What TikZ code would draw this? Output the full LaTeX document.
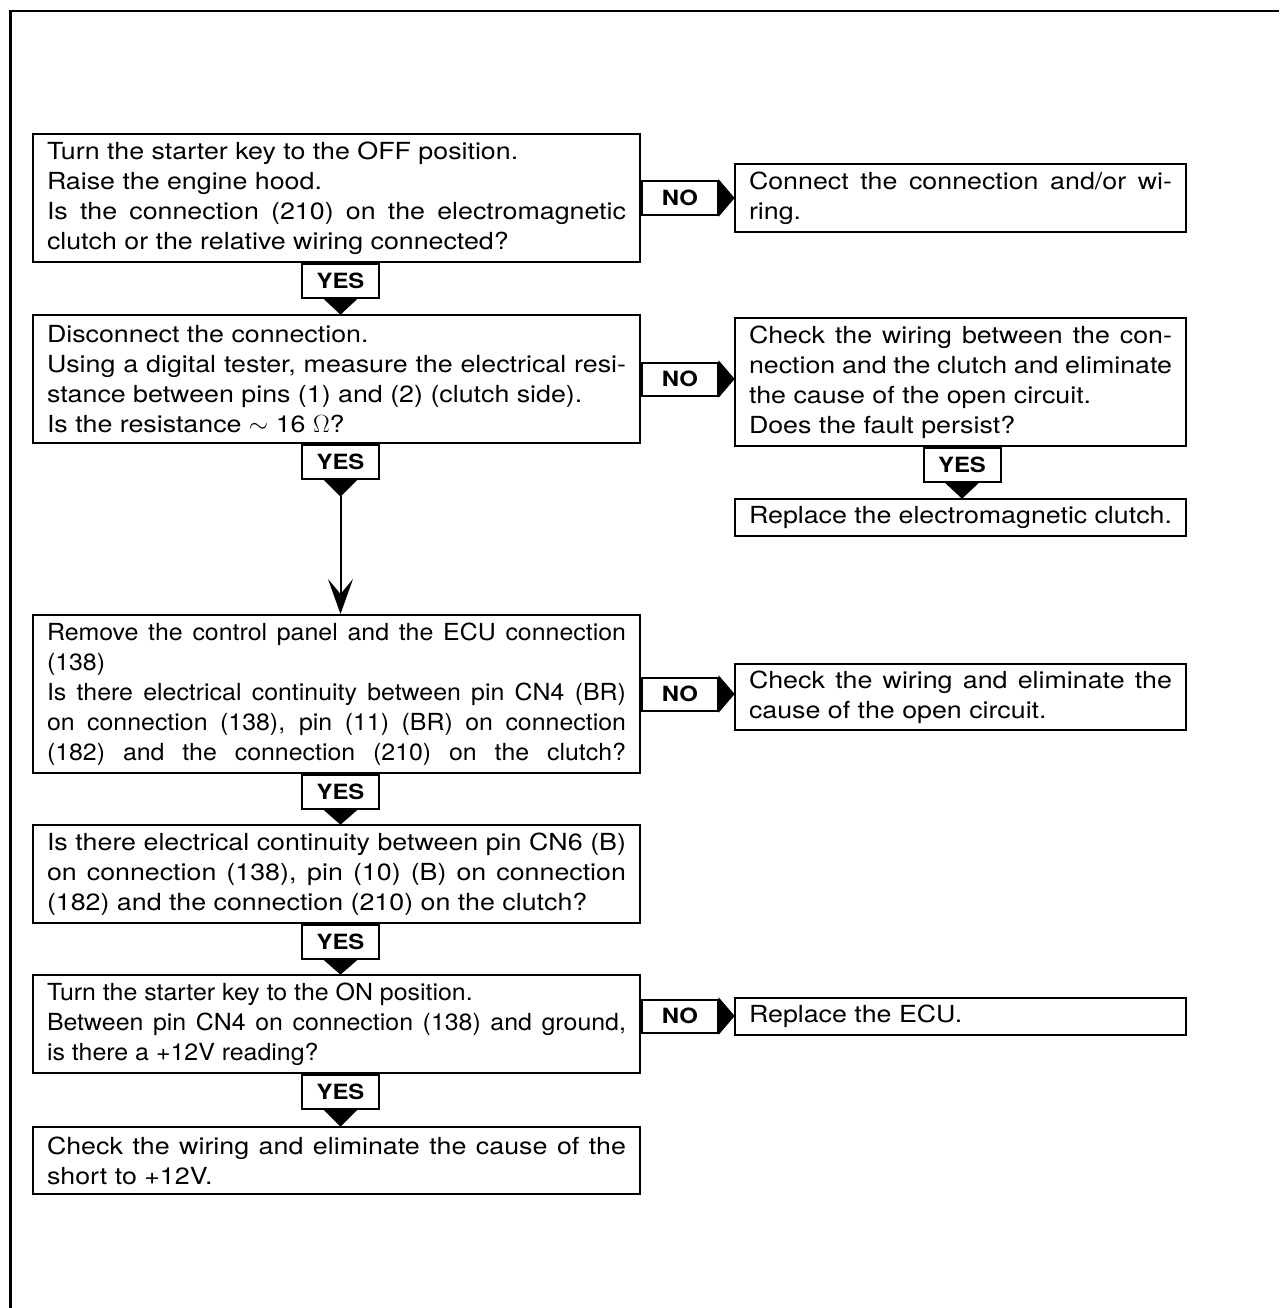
\documentclass[tikz,border=0pt]{standalone}
\usepackage{fontspec}
\setmainfont{TeX Gyre Heros}[FakeStretch=1.14]
\newfontfamily\narrowfont{TeX Gyre Heros}[FakeStretch=1.06]
\usepackage{tikz}
\usetikzlibrary{arrows.meta, positioning, calc}
\hbadness=10000

\begin{document}
\begin{tikzpicture}[
        x=1pt, y=-1pt,
        >=Stealth,
        box/.style={
            rectangle,
            draw,
            line width=2pt,
            text width=579pt,
            align=justify,
            inner xsep=14pt,
            inner ysep=4pt,
            font=\fontsize{23.5pt}{30pt}\selectfont
        },
        rbox/.style={box, text width=423pt},
        yestab/.style={
            rectangle,
            draw,
            fill=white,
            line width=2pt,
            minimum width=77pt,
            minimum height=34pt,
            inner sep=0pt,
            font=\fontsize{21pt}{21pt}\selectfont\bfseries
        },
        notab/.style={yestab, minimum width=76pt, minimum height=33pt},
        tip/.style={fill=black, draw=black, line width=1pt, line join=miter}
    ]
    \useasboundingbox (0,0) rectangle (1279,1308);
    \draw[line width=2.5pt] (10.5,1308) -- (10.5,11) -- (1279,11);

    % left column
    \node[box, minimum height=128pt] (q1) at (336.5,198) {Turn the starter key to the OFF position.\\
        Raise the engine hood.\\
        Is the connection (210) on the electromagnetic\linebreak clutch or the relative wiring connected?};
    \node[box, minimum height=128pt, below=51pt of q1] (q2) {Disconnect the connection.\\
        Using a digital tester, measure the electrical resi-\linebreak stance between pins (1) and (2) (clutch side).\\
        Is the resistance $\sim$ 16 $\Omega$?};
    \node[box, minimum height=158pt, below=170pt of q2, font=\fontsize{23.5pt}{30pt}\narrowfont] (q3) {Remove the control panel and the ECU connection\linebreak (138)\\
        Is there electrical continuity between pin CN4 (BR)\linebreak on connection (138), pin (11) (BR) on connection\linebreak \makebox[\linewidth][s]{(182) and the connection (210) on the clutch?}};
    \node[box, minimum height=98pt, below=50pt of q3] (q4) {Is there electrical continuity between pin CN6 (B)\linebreak on connection (138), pin (10) (B) on connection\linebreak (182) and the connection (210) on the clutch?};
    \node[box, minimum height=98pt, below=50pt of q4, font=\fontsize{23.5pt}{30pt}\narrowfont] (q5) {Turn the starter key to the ON position.\\
        Between pin CN4 on connection (138) and ground,\linebreak is there a +12V reading?};
    \node[box, minimum height=67pt, below=52pt of q5] (q6) {Check the wiring and eliminate the cause of the\linebreak short to +12V.};

    % right column
    \node[rbox, minimum height=67pt, right=93pt of q1] (r1) {Connect the connection and/or wi-\linebreak ring.};
    \node[rbox, minimum height=128pt, right=93pt of q2, yshift=-3pt] (r2) {Check the wiring between the con-\linebreak nection and the clutch and eliminate\linebreak the cause of the open circuit.\\
        Does the fault persist?};
    \node[rbox, minimum height=37pt, below=51pt of r2] (r2b) {Replace the electromagnetic clutch.};
    \node[rbox, minimum height=66pt, right=93pt of q3, yshift=-3pt] (r3) {Check the wiring and eliminate the\linebreak cause of the open circuit.};
    \node[rbox, minimum height=37pt, right=93pt of q5, yshift=8pt] (r5) {Replace the ECU.};

    % YES tabs
    \node[yestab, anchor=north] (y1) at ([xshift=4pt]q1.south) {YES};
    \node[yestab, anchor=north] (y2) at ([xshift=4pt]q2.south) {YES};
    \node[yestab, anchor=north] (y3) at ([xshift=4pt]q3.south) {YES};
    \node[yestab, anchor=north] (y4) at ([xshift=4pt]q4.south) {YES};
    \node[yestab, anchor=north] (y5) at ([xshift=4pt]q5.south) {YES};
    \node[yestab, anchor=north] (yr2) at ([xshift=1.5pt]r2.south) {YES};

    \fill[tip] ([xshift=-16pt]y1.south) -- ([xshift=16pt]y1.south) -- (y1.south |- q2.north) -- cycle;
    \fill[tip] ([xshift=-16pt]y3.south) -- ([xshift=16pt]y3.south) -- (y3.south |- q4.north) -- cycle;
    \fill[tip] ([xshift=-16pt]y4.south) -- ([xshift=16pt]y4.south) -- (y4.south |- q5.north) -- cycle;
    \fill[tip] ([xshift=-16pt]y5.south) -- ([xshift=16pt]y5.south) -- (y5.south |- q6.north) -- cycle;
    \fill[tip] ([xshift=-16pt]yr2.south) -- ([xshift=16pt]yr2.south) -- (yr2.south |- r2b.north) -- cycle;

    % long arrow down to q3
    \coordinate (y2tip) at ([yshift=-16pt]y2.south);
    \fill[tip] ([xshift=-16pt]y2.south) -- ([xshift=16pt]y2.south) -- (y2tip) -- cycle;
    \draw[line width=2pt, -{Stealth[length=35pt, width=25pt, inset=15pt]}] (y2tip) -- (y2tip |- q3.north);

    % NO tabs
    \node[notab, anchor=west] (n1) at (q1.east) {NO};
    \node[notab, anchor=west] (n2) at (q2.east) {NO};
    \node[notab, anchor=west] (n3) at (q3.east) {NO};
    \node[notab, anchor=west, yshift=8pt] (n5) at (q5.east) {NO};

    \fill[tip] (n1.north east) -- (n1.south east) -- (r1.west |- n1.east) -- cycle;
    \fill[tip] (n2.north east) -- (n2.south east) -- (r2.west |- n2.east) -- cycle;
    \fill[tip] (n3.north east) -- (n3.south east) -- (r3.west |- n3.east) -- cycle;
    \fill[tip] (n5.north east) -- (n5.south east) -- (r5.west |- n5.east) -- cycle;
\end{tikzpicture}
\end{document}
